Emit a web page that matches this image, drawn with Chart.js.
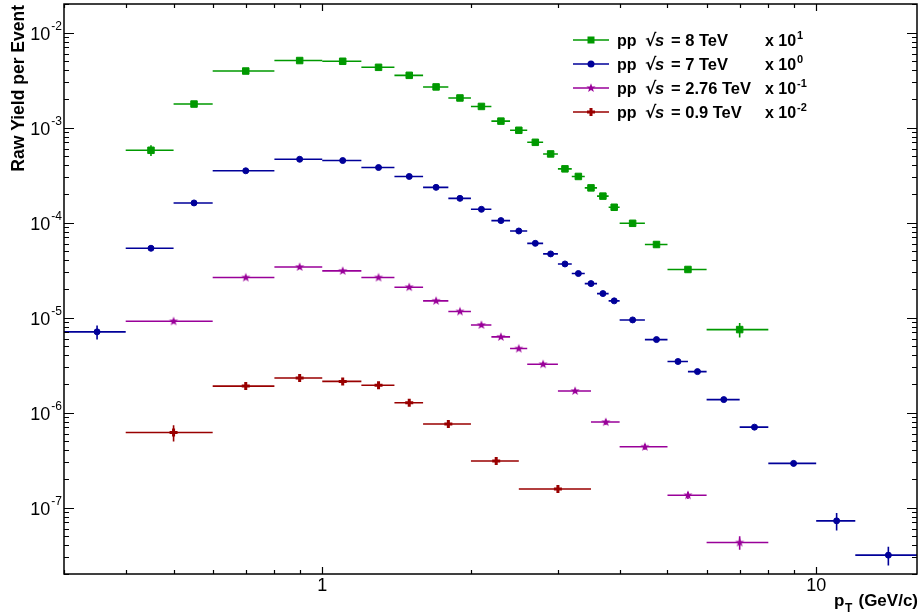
<!DOCTYPE html>
<html>
<head>
<meta charset="utf-8">
<script src="https://cdn.jsdelivr.net/npm/chart.js@4.4.1/dist/chart.umd.min.js"></script>
<style>
  body { margin: 0; background: #fff; }
  #wrap { position: relative; width: 921px; height: 615px; }
</style>
</head>
<body>
<div id="wrap"><canvas id="spectra"></canvas></div>
<script>
// pp 8 TeV, scaled x 10^1
const pt8Lo  = [0.4, 0.5, 0.6, 0.8, 1.0, 1.2, 1.4, 1.6, 1.8, 2.0, 2.2, 2.4, 2.6, 2.8, 3.0, 3.2, 3.4, 3.6, 3.8, 4.0, 4.5, 5.0, 6.0];
const pt8Hi  = [0.5, 0.6, 0.8, 1.0, 1.2, 1.4, 1.6, 1.8, 2.0, 2.2, 2.4, 2.6, 2.8, 3.0, 3.2, 3.4, 3.6, 3.8, 4.0, 4.5, 5.0, 6.0, 8.0];
const pt8    = [0.45, 0.55, 0.7, 0.9, 1.1, 1.3, 1.5, 1.7, 1.9, 2.1, 2.3, 2.5, 2.7, 2.9, 3.1, 3.3, 3.5, 3.7, 3.9, 4.25, 4.75, 5.5, 7.0];
const yld8   = [5.77e-4, 1.77e-3, 3.94e-3, 5.08e-3, 4.99e-3, 4.31e-3, 3.55e-3, 2.68e-3, 2.05e-3, 1.67e-3, 1.17e-3, 9.37e-4,
                7.00e-4, 5.28e-4, 3.68e-4, 3.06e-4, 2.32e-4, 1.90e-4, 1.45e-4, 9.83e-5, 5.88e-5, 3.21e-5, 7.48e-6];
const err8   = [7.5e-5, 4e-5, 6e-5, 6e-5, 5e-5, 4e-5, 3e-5, 2.5e-5, 2e-5, 1.8e-5, 1.5e-5, 1.3e-5,
                1.1e-5, 1e-5, 9e-6, 9e-6, 1.1e-5, 1.2e-5, 1.2e-5, 6e-6, 4.5e-6, 2.2e-6, 1.3e-6];

// pp 7 TeV, scaled x 10^0
const pt7Lo  = [0.3, 0.4, 0.5, 0.6, 0.8, 1.0, 1.2, 1.4, 1.6, 1.8, 2.0, 2.2, 2.4, 2.6, 2.8, 3.0, 3.2, 3.4, 3.6, 3.8, 4.0, 4.5, 5.0, 5.5, 6.0, 7.0, 8.0, 10, 12];
const pt7Hi  = [0.4, 0.5, 0.6, 0.8, 1.0, 1.2, 1.4, 1.6, 1.8, 2.0, 2.2, 2.4, 2.6, 2.8, 3.0, 3.2, 3.4, 3.6, 3.8, 4.0, 4.5, 5.0, 5.5, 6.0, 7.0, 8.0, 10, 12, 16];
const pt7    = [0.35, 0.45, 0.55, 0.7, 0.9, 1.1, 1.3, 1.5, 1.7, 1.9, 2.1, 2.3, 2.5, 2.7, 2.9, 3.1, 3.3, 3.5, 3.7, 3.9, 4.25, 4.75, 5.25, 5.75, 6.5, 7.5, 9, 11, 14];
const yld7   = [7.08e-6, 5.37e-5, 1.61e-4, 3.51e-4, 4.64e-4, 4.50e-4, 3.80e-4, 3.06e-4, 2.35e-4, 1.80e-4, 1.38e-4, 1.05e-4,
                8.16e-5, 6.05e-5, 4.68e-5, 3.67e-5, 2.91e-5, 2.28e-5, 1.79e-5, 1.50e-5, 9.45e-6, 5.87e-6, 3.45e-6, 2.70e-6,
                1.37e-6, 7.03e-7, 2.92e-7, 7.25e-8, 3.16e-8];
const err7   = [1.2e-6, 1.5e-6, 3e-6, 5e-6, 6e-6, 6e-6, 5e-6, 4e-6, 3e-6, 2.5e-6, 2e-6, 1.5e-6,
                1.2e-6, 9e-7, 7e-7, 6e-7, 5e-7, 4e-7, 3e-7, 3e-7, 2e-7, 1.3e-7, 8e-8, 7e-8,
                4e-8, 2.5e-8, 2e-8, 1.5e-8, 7e-9];

// pp 2.76 TeV, scaled x 10^-1
const pt276Lo = [0.4, 0.6, 0.8, 1.0, 1.2, 1.4, 1.6, 1.8, 2.0, 2.2, 2.4, 2.6, 3.0, 3.5, 4.0, 5.0, 6.0];
const pt276Hi = [0.6, 0.8, 1.0, 1.2, 1.4, 1.6, 1.8, 2.0, 2.2, 2.4, 2.6, 3.0, 3.5, 4.0, 5.0, 6.0, 8.0];
const pt276   = [0.5, 0.7, 0.9, 1.1, 1.3, 1.5, 1.7, 1.9, 2.1, 2.3, 2.5, 2.8, 3.25, 3.75, 4.5, 5.5, 7.0];
const yld276  = [9.14e-6, 2.64e-5, 3.41e-5, 3.10e-5, 2.64e-5, 2.09e-5, 1.50e-5, 1.16e-5, 8.37e-6, 6.26e-6, 4.72e-6,
                 3.23e-6, 1.69e-6, 7.95e-7, 4.37e-7, 1.35e-7, 4.29e-8];
const err276  = [4e-7, 8e-7, 9e-7, 8e-7, 7e-7, 6e-7, 5e-7, 4e-7, 3e-7, 2.5e-7, 2e-7,
                 1.5e-7, 8e-8, 5e-8, 3e-8, 1.2e-8, 7e-9];

// pp 0.9 TeV, scaled x 10^-2
const pt09Lo = [0.4, 0.6, 0.8, 1.0, 1.2, 1.4, 1.6, 2.0, 2.5];
const pt09Hi = [0.6, 0.8, 1.0, 1.2, 1.4, 1.6, 2.0, 2.5, 3.5];
const pt09   = [0.5, 0.7, 0.9, 1.1, 1.3, 1.5, 1.8, 2.25, 3.0];
const yld09  = [6.17e-7, 1.90e-6, 2.31e-6, 2.13e-6, 1.94e-6, 1.27e-6, 7.59e-7, 3.09e-7, 1.57e-7];
const err09  = [1.2e-7, 1.6e-7, 1.8e-7, 1.6e-7, 1.5e-7, 8e-8, 5e-8, 2.2e-8, 1.2e-8];

const energies  = ['8', '7', '2.76', '0.9'];
const scaleExps = ['1', '0', '-1', '-2'];
const yTickExps = [-2, -3, -4, -5, -6, -7];
const xTickVals = [1, 10];

const GREEN = '#009900', BLUE = '#000099', MAGENTA = '#990099', RED = '#990000';

// filled five-pointed star for the 2.76 TeV markers
function makeStar(color, outer, inner) {
    const c = document.createElement('canvas');
    const s = Math.ceil(outer * 2 + 2);
    c.width = s; c.height = s;
    const g = c.getContext('2d');
    g.fillStyle = color;
    g.beginPath();
    for (let i = 0; i < 10; i++) {
        const r = i % 2 ? inner : outer;
        const a = -Math.PI / 2 + i * Math.PI / 5;
        g.lineTo(s / 2 + r * Math.cos(a), s / 2 + r * Math.sin(a));
    }
    g.closePath();
    g.fill();
    return c;
}
const starImg = makeStar(MAGENTA, 4.8, 2.0);

function toPoints(xs, lo, hi, ys, es) {
    return xs.map((x, i) => ({ x: x, y: ys[i], xlo: lo[i], xhi: hi[i], err: es[i] }));
}

const series = [
    { label: '8 TeV', color: GREEN, data: toPoints(pt8, pt8Lo, pt8Hi, yld8, err8), pointStyle: 'rect', pointRadius: 4.6, borderWidth: 1 },
    { label: '7 TeV', color: BLUE, data: toPoints(pt7, pt7Lo, pt7Hi, yld7, err7), pointStyle: 'circle', pointRadius: 3, borderWidth: 1 },
    { label: '2.76 TeV', color: MAGENTA, data: toPoints(pt276, pt276Lo, pt276Hi, yld276, err276), pointStyle: starImg, pointRadius: 5, borderWidth: 0 },
    { label: '0.9 TeV', color: RED, data: toPoints(pt09, pt09Lo, pt09Hi, yld09, err09), pointStyle: 'cross', pointRadius: 4, borderWidth: 3 }
];

// horizontal bin-width bars and vertical error bars
const errorBars = {
    id: 'errorBars',
    beforeDatasetsDraw(chart) {
        const { ctx, chartArea: a, scales: { x, y } } = chart;
        ctx.save();
        ctx.beginPath();
        ctx.rect(a.left, a.top, a.right - a.left, a.bottom - a.top);
        ctx.clip();
        ctx.lineWidth = 1.6;
        chart.data.datasets.forEach(ds => {
            ctx.strokeStyle = ds.borderColor;
            ds.data.forEach(p => {
                const py = y.getPixelForValue(p.y);
                const px = x.getPixelForValue(p.x);
                ctx.beginPath();
                ctx.moveTo(x.getPixelForValue(p.xlo), py);
                ctx.lineTo(x.getPixelForValue(p.xhi), py);
                ctx.moveTo(px, y.getPixelForValue(p.y - p.err));
                ctx.lineTo(px, y.getPixelForValue(p.y + p.err));
                ctx.stroke();
            });
        });
        ctx.restore();
    }
};

function drawMarker(ctx, s, cx, cy) {
    ctx.fillStyle = s.color;
    ctx.strokeStyle = s.color;
    if (s.pointStyle === 'rect') {
        ctx.fillRect(cx - 3.5, cy - 3.5, 7, 7);
    } else if (s.pointStyle === 'circle') {
        ctx.beginPath(); ctx.arc(cx, cy, 3.5, 0, Math.PI * 2); ctx.fill();
    } else if (s.pointStyle === 'cross') {
        ctx.lineWidth = 3;
        ctx.beginPath();
        ctx.moveTo(cx - 4, cy); ctx.lineTo(cx + 4, cy);
        ctx.moveTo(cx, cy - 4); ctx.lineTo(cx, cy + 4);
        ctx.stroke();
    } else {
        ctx.drawImage(s.pointStyle, cx - s.pointStyle.width / 2, cy - s.pointStyle.height / 2);
    }
}

// ROOT-like frame, inside ticks, labels, titles and legend
const rootFrame = {
    id: 'rootFrame',
    afterDraw(chart) {
        const { ctx, chartArea: a, scales: { x, y } } = chart;
        ctx.save();
        ctx.strokeStyle = '#000';
        ctx.lineWidth = 1.5;
        ctx.strokeRect(a.left, a.top, a.right - a.left, a.bottom - a.top);

        ctx.beginPath();
        for (let e = -9; e <= -1; e++) {
            for (let m = 1; m <= 9; m++) {
                const v = m * Math.pow(10, e);
                if (v < y.min || v > y.max) continue;
                const py = Math.round(y.getPixelForValue(v)) + 0.5;
                const len = m === 1 ? 10 : 5;
                ctx.moveTo(a.left, py); ctx.lineTo(a.left + len, py);
                ctx.moveTo(a.right, py); ctx.lineTo(a.right - len, py);
            }
        }
        for (let e = -1; e <= 1; e++) {
            for (let m = 1; m <= 9; m++) {
                const v = m * Math.pow(10, e);
                if (v <= x.min || v >= x.max) continue;
                const px = Math.round(x.getPixelForValue(v)) + 0.5;
                const len = m === 1 ? 7 : 4;
                ctx.moveTo(px, a.bottom); ctx.lineTo(px, a.bottom - len);
                ctx.moveTo(px, a.top); ctx.lineTo(px, a.top + len);
            }
        }
        ctx.lineWidth = 1.2;
        ctx.stroke();

        ctx.fillStyle = '#000';
        ctx.textBaseline = 'alphabetic';
        // y tick labels 10^n
        yTickExps.forEach(n => {
            const py = y.getPixelForValue(Math.pow(10, n));
            ctx.font = '12px "Liberation Sans", Arial, sans-serif';
            ctx.textAlign = 'right';
            const sup = String(n);
            const supW = ctx.measureText(sup).width;
            ctx.fillText(sup, a.left - 2, py - 3);
            ctx.font = '18px "Liberation Sans", Arial, sans-serif';
            ctx.fillText('10', a.left - 3 - supW, py + 7);
        });
        // x tick labels
        ctx.font = '18px "Liberation Sans", Arial, sans-serif';
        ctx.textAlign = 'center';
        xTickVals.forEach(v => {
            ctx.fillText(String(v), x.getPixelForValue(v), 591);
        });

        // x title
        ctx.textAlign = 'left';
        ctx.font = 'bold 17px "Liberation Sans", Arial, sans-serif';
        ctx.fillText('p', 834, 606);
        ctx.font = 'bold 12px "Liberation Sans", Arial, sans-serif';
        ctx.fillText('T', 845, 612);
        ctx.font = 'bold 17px "Liberation Sans", Arial, sans-serif';
        ctx.textAlign = 'right';
        ctx.fillText('(GeV/c)', 918, 606);

        // y title
        ctx.save();
        ctx.translate(24, 5);
        ctx.rotate(-Math.PI / 2);
        ctx.textAlign = 'right';
        ctx.font = 'bold 17.5px "Liberation Sans", Arial, sans-serif';
        ctx.fillText('Raw Yield per Event', 0, 0);
        ctx.restore();

        // legend
        series.forEach((s, i) => {
            const ly = 40 + i * 24;
            const base = ly + 6;
            ctx.strokeStyle = s.color;
            ctx.lineWidth = 1.6;
            ctx.beginPath();
            ctx.moveTo(573, ly); ctx.lineTo(609, ly);
            ctx.stroke();
            drawMarker(ctx, s, 591, ly);

            ctx.fillStyle = '#000';
            ctx.textAlign = 'left';
            ctx.font = 'bold 16px "Liberation Sans", Arial, sans-serif';
            ctx.fillText('pp', 617, base);
            ctx.font = 'bold 17px "DejaVu Sans", sans-serif';
            ctx.fillText('\u221A', 645, base);
            ctx.font = 'italic bold 16.5px "Liberation Sans", Arial, sans-serif';
            ctx.fillText('s', 655, base);
            ctx.font = 'bold 16.5px "Liberation Sans", Arial, sans-serif';
            ctx.fillText('= ' + energies[i] + ' TeV', 671, base);
            ctx.font = 'bold 16px "Liberation Sans", Arial, sans-serif';
            ctx.fillText('x 10', 765, base);
            ctx.font = 'bold 11px "Liberation Sans", Arial, sans-serif';
            ctx.fillText(scaleExps[i], 797, base - 7);
        });
        ctx.restore();
    }
};

const chart = new Chart(document.getElementById('spectra'), {
    type: 'scatter',
    data: {
        datasets: series.map(s => ({
            label: s.label,
            data: s.data,
            pointStyle: s.pointStyle,
            pointRadius: s.pointRadius,
            pointHoverRadius: s.pointRadius,
            backgroundColor: s.color,
            borderColor: s.color,
            borderWidth: s.borderWidth,
            showLine: false
        }))
    },
    options: {
        responsive: true,
        maintainAspectRatio: false,
        animation: false,
        layout: { autoPadding: false, padding: { left: 64, top: 4, right: 4, bottom: 41 } },
        scales: {
            x: { type: 'logarithmic', min: 0.3, max: 16, display: false },
            y: { type: 'logarithmic', min: 2e-8, max: 2e-2, display: false }
        },
        plugins: {
            legend: { display: false },
            tooltip: { enabled: false }
        }
    },
    plugins: [errorBars, rootFrame]
});
</script>
</body>
</html>
